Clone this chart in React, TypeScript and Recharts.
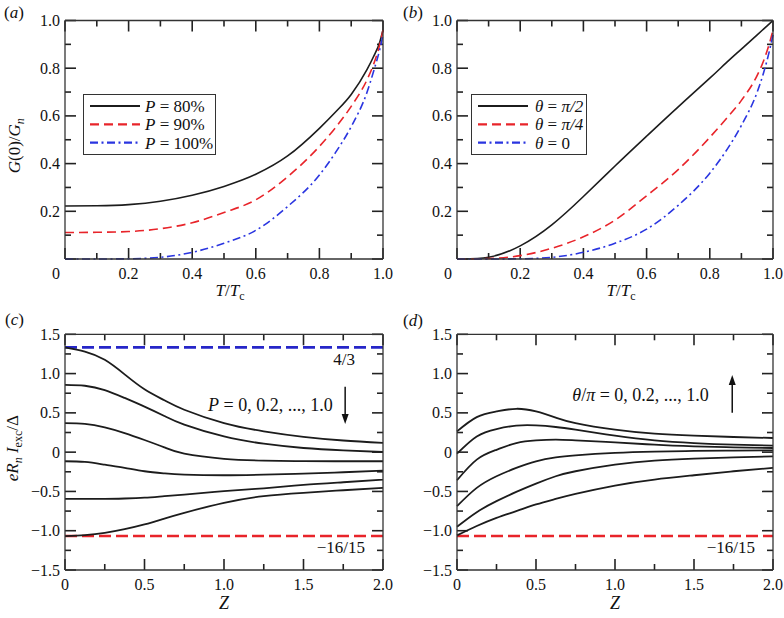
import React from "react";
import { LineChart, Line, XAxis, YAxis, ReferenceLine, ReferenceDot, Legend } from "recharts";

const FONT = '"Liberation Serif", "Times New Roman", serif';

// (a), (b): G(0)/G_n against T/T_c
const tempGrid = [0, 0.1, 0.2, 0.3, 0.4, 0.5, 0.6, 0.7, 0.8, 0.85, 0.9, 0.95, 0.97, 0.99, 1.0];
const gP80 = [0.222, 0.223, 0.228, 0.242, 0.267, 0.304, 0.355, 0.432, 0.548, 0.615, 0.69, 0.795, 0.848, 0.91, 0.96];
const gP90 = [0.111, 0.112, 0.115, 0.127, 0.152, 0.195, 0.248, 0.345, 0.472, 0.55, 0.64, 0.752, 0.815, 0.9, 0.96];
const gP100 = [0, 0, 0.001, 0.007, 0.028, 0.066, 0.12, 0.22, 0.352, 0.445, 0.555, 0.7, 0.785, 0.88, 0.94];
const gHalfPi = [0, 0.007, 0.055, 0.143, 0.262, 0.39, 0.515, 0.638, 0.758, 0.82, 0.88, 0.94, 0.964, 0.988, 1.0];
const gQuarterPi = [0, 0.002, 0.014, 0.045, 0.093, 0.163, 0.265, 0.375, 0.51, 0.585, 0.665, 0.77, 0.83, 0.91, 0.96];
const gZero = [0, 0, 0.001, 0.007, 0.028, 0.066, 0.125, 0.225, 0.36, 0.45, 0.56, 0.7, 0.78, 0.88, 0.94];

// (c), (d): eR_n I_exc / Delta against Z
const zGrid = [0, 0.125, 0.25, 0.375, 0.5, 0.625, 0.75, 1.0, 1.25, 1.5, 1.75, 2.0];
const excByP = [
  [1.333, 1.28, 1.175, 0.99, 0.8, 0.66, 0.54, 0.37, 0.265, 0.195, 0.148, 0.118],
  [0.857, 0.845, 0.79, 0.69, 0.58, 0.46, 0.35, 0.2, 0.108, 0.053, 0.023, 0.002],
  [0.37, 0.36, 0.315, 0.243, 0.155, 0.06, -0.02, -0.085, -0.107, -0.114, -0.116, -0.116],
  [-0.116, -0.125, -0.16, -0.2, -0.243, -0.27, -0.286, -0.294, -0.286, -0.273, -0.256, -0.235],
  [-0.595, -0.595, -0.595, -0.59, -0.58, -0.56, -0.54, -0.497, -0.46, -0.417, -0.383, -0.35],
  [-1.068, -1.055, -1.027, -0.98, -0.92, -0.845, -0.772, -0.645, -0.56, -0.518, -0.485, -0.455],
];
const excByTheta = [
  [-1.06, -0.94, -0.836, -0.751, -0.666, -0.595, -0.531, -0.425, -0.349, -0.294, -0.243, -0.201],
  [-0.95, -0.764, -0.624, -0.506, -0.4, -0.307, -0.243, -0.159, -0.108, -0.083, -0.066, -0.053],
  [-0.688, -0.455, -0.307, -0.2, -0.116, -0.066, -0.04, -0.01, 0.006, 0.015, 0.019, 0.023],
  [-0.358, -0.095, 0.03, 0.116, 0.15, 0.159, 0.15, 0.125, 0.095, 0.074, 0.061, 0.053],
  [-0.02, 0.2, 0.294, 0.337, 0.34, 0.32, 0.286, 0.21, 0.15, 0.116, 0.095, 0.083],
  [0.264, 0.446, 0.518, 0.552, 0.518, 0.44, 0.37, 0.286, 0.235, 0.21, 0.193, 0.18],
];
const upperLimit = 4 / 3;
const lowerLimit = -16 / 15;

const tTicks = [0, 0.1, 0.2, 0.3, 0.4, 0.5, 0.6, 0.7, 0.8, 0.9, 1.0];
const tMajor = [0, 0.2, 0.4, 0.6, 0.8, 1.0];
const zTicks = [0, 0.25, 0.5, 0.75, 1.0, 1.25, 1.5, 1.75, 2.0];
const zMajor = [0, 0.5, 1.0, 1.5, 2.0];
const eTicks = [-1.5, -1.25, -1.0, -0.75, -0.5, -0.25, 0, 0.25, 0.5, 0.75, 1.0, 1.25, 1.5];
const eMajor = [-1.5, -1.0, -0.5, 0, 0.5, 1.0, 1.5];

const rowsA = tempGrid.map((t, i) => ({ t, p80: gP80[i], p90: gP90[i], p100: gP100[i] }));
const rowsB = tempGrid.map((t, i) => ({ t, half: gHalfPi[i], quarter: gQuarterPi[i], zero: gZero[i] }));
const rowsC = zGrid.map((z, i) => {
  const r: any = { z };
  excByP.forEach((s, k) => (r["c" + k] = s[i]));
  return r;
});
const rowsD = zGrid.map((z, i) => {
  const r: any = { z };
  excByTheta.forEach((s, k) => (r["d" + k] = s[i]));
  return r;
});

const BLACK = "#1c1c1c";
const RED = "#e8242a";
const BLUE = "#2a35e0";
const AXIS = "#222";

const styleSolid = { stroke: BLACK, dash: undefined as string | undefined, curve: "natural" };
const styleDash = { stroke: RED, dash: "9 5", curve: "monotone" };
const styleDot = { stroke: BLUE, dash: "8 3.5 2 3.5", curve: "monotone" };

const seriesA = [
  { key: "p80", label: "80%", ...styleSolid, curve: "monotone" },
  { key: "p90", label: "90%", ...styleDash },
  { key: "p100", label: "100%", ...styleDot },
];
const seriesB = [
  { key: "half", label: "\u03c0/2", ...styleSolid },
  { key: "quarter", label: "\u03c0/4", ...styleDash },
  { key: "zero", label: "0", ...styleDot },
];

const fmtT = (v: number) => (v === 0 ? "0" : v.toFixed(1));
const fmtTy = (v: number) => (v === 0 ? "" : v.toFixed(1));
const fmtE = (v: number) => (v === 0 ? "0" : (v < 0 ? "\u2212" : "") + Math.abs(v).toFixed(1));

const isMajor = (majors: number[], v: number) => majors.some((m) => Math.abs(m - v) < 1e-9);

// tick labels of the bottom and left axes
function TickLabel(props: any) {
  const { x, y, payload, side, majors, fmt, shiftZero = 0 } = props;
  const v = payload.value;
  const text = isMajor(majors, v) ? fmt(v) : "";
  if (!text) return <g />;
  if (side === "bottom")
    return (
      <text x={x + (v === 0 ? shiftZero : 0)} y={y + 19.5} textAnchor="middle" fontSize={16} fontFamily={FONT} fill="#111">
        {text}
      </text>
    );
  return (
    <text x={x - 5} y={y + 5.5} textAnchor="end" fontSize={16} fontFamily={FONT} fill="#111">
      {text}
    </text>
  );
}

// inward tick marks on all four sides, as short reference segments;
// plotW / plotH (px) turn the 11 px / 6 px tick lengths into data units
function tickMarks(xs: number[], xMajor: number[], ys: number[], yMajor: number[],
  xDom: number[], yDom: number[], plotW: number, plotH: number) {
  const perPxX = (xDom[1] - xDom[0]) / plotW;
  const perPxY = (yDom[1] - yDom[0]) / plotH;
  const seg = (key: string, a: any, b: any) => (
    <ReferenceLine key={key} segment={[a, b]} stroke={AXIS} strokeWidth={1.6} ifOverflow="visible" />
  );
  const out: any[] = [];
  xs.forEach((v) => {
    const l = (isMajor(xMajor, v) ? 11 : 6) * perPxY;
    out.push(seg("xb" + v, { x: v, y: yDom[0] }, { x: v, y: yDom[0] + l }));
    out.push(seg("xt" + v, { x: v, y: yDom[1] }, { x: v, y: yDom[1] - l }));
  });
  ys.forEach((v) => {
    const l = (isMajor(yMajor, v) ? 11 : 6) * perPxX;
    out.push(seg("yl" + v, { x: xDom[0], y: v }, { x: xDom[0] + l, y: v }));
    out.push(seg("yr" + v, { x: xDom[1], y: v }, { x: xDom[1] - l, y: v }));
  });
  return out;
}

function TTitle({ viewBox }: any) {
  const cx = viewBox.x + viewBox.width / 2 + 6;
  return (
    <text x={cx} y={viewBox.y + 37} textAnchor="middle" fontSize={17} fontFamily={FONT} fill="#111">
      <tspan fontStyle="italic">T</tspan>/<tspan fontStyle="italic">T</tspan>
      <tspan fontSize={12} dy={4}>c</tspan>
    </text>
  );
}

function ZTitle({ viewBox }: any) {
  return (
    <text x={viewBox.x + viewBox.width / 2} y={viewBox.y + 39} textAnchor="middle" fontSize={18} fontFamily={FONT} fontStyle="italic" fill="#111">
      Z
    </text>
  );
}

function GTitle({ viewBox }: any) {
  const cx = viewBox.x - 44;
  const cy = viewBox.y + viewBox.height / 2 + 6;
  return (
    <text x={cx} y={cy} transform={`rotate(-90 ${cx} ${cy})`} textAnchor="middle" fontSize={17} fontFamily={FONT} fill="#111">
      <tspan fontStyle="italic">G</tspan>(0)/<tspan fontStyle="italic">G</tspan>
      <tspan fontStyle="italic" fontSize={12} dy={4}>n</tspan>
    </text>
  );
}

function ETitle({ viewBox }: any) {
  const cx = viewBox.x - 46;
  const cy = viewBox.y + viewBox.height / 2 - 4;
  return (
    <text x={cx} y={cy} transform={`rotate(-90 ${cx} ${cy})`} textAnchor="middle" fontSize={17} fontFamily={FONT} fill="#111">
      <tspan fontStyle="italic">eR</tspan>
      <tspan fontStyle="italic" fontSize={12} dy={4}>n</tspan>
      <tspan fontStyle="italic" dy={-4}> I</tspan>
      <tspan fontSize={12} dy={4}>exc</tspan>
      <tspan dy={-4}>/{"\u0394"}</tspan>
    </text>
  );
}

function LimitLabel({ viewBox, text, dx, dy }: any) {
  return (
    <text x={viewBox.x + viewBox.width + dx} y={viewBox.y + dy} textAnchor="end" fontSize={17} fontFamily={FONT} fill="#111">
      {text}
    </text>
  );
}

function Arrow({ x1, y1, x2, y2 }: any) {
  const dir = y2 > y1 ? 1 : -1;
  return (
    <g>
      <line x1={x1} y1={y1} x2={x2} y2={y2 - dir * 8} stroke="#111" strokeWidth={1.5} />
      <path d={`M${x2},${y2} L${x2 - 3.5},${y2 - dir * 10} L${x2 + 3.5},${y2 - dir * 10} Z`} fill="#111" />
    </g>
  );
}

function NoteP({ cx, cy }: any) {
  return (
    <text x={cx} y={cy} fontSize={18} fontFamily={FONT} fill="#111">
      <tspan fontStyle="italic">P</tspan> = 0, 0.2, ..., 1.0
    </text>
  );
}

function NoteTheta({ cx, cy }: any) {
  return (
    <text x={cx} y={cy} fontSize={18} fontFamily={FONT} fill="#111">
      <tspan fontStyle="italic">{"\u03b8"}</tspan>/<tspan fontStyle="italic">{"\u03c0"}</tspan> = 0, 0.2, ..., 1.0
    </text>
  );
}

function LegendBox({ items, width, symbol }: any) {
  return (
    <div style={{ width, height: 61, border: "1.3px solid #333", boxSizing: "border-box", background: "#fff" }}>
      <svg width={width - 3} height={58} style={{ display: "block" }}>
        {items.map((s: any, i: number) => {
          const y = 11 + i * 18.3;
          return (
            <g key={s.key}>
              <line x1={6} x2={56} y1={y} y2={y} stroke={s.stroke} strokeWidth={2.2} strokeDasharray={s.dash} />
              <text x={symbol === "P" ? 61 : 63} y={y + 6} fontSize={17} fontFamily={FONT} fill="#111">
                <tspan fontStyle="italic">{symbol === "P" ? "P" : "\u03b8"}</tspan>
                {" = "}
                {symbol === "P" ? s.label : <tspan fontStyle={s.label === "0" ? "normal" : "italic"}>{s.label}</tspan>}
              </text>
            </g>
          );
        })}
      </svg>
    </div>
  );
}

const frameLine = { stroke: "#333", strokeWidth: 1.3 };

// top and right axes only close the frame
function frameAxes(kind: "t" | "z") {
  const domX = kind === "t" ? [0, 1] : [0, 2];
  const domY = kind === "t" ? [0, 1] : [-1.5, 1.5];
  return [
    <XAxis key="xt" xAxisId="top" orientation="top" type="number" domain={domX} ticks={domX} height={1}
      tickLine={false} axisLine={frameLine} tick={false} />,
    <YAxis key="yr" yAxisId="right" orientation="right" type="number" domain={domY} ticks={domY} width={1}
      tickLine={false} axisLine={frameLine} tick={false} />,
  ];
}

const lineProps = { dot: false, isAnimationActive: false, strokeWidth: 1.6 };

function PanelA() {
  return (
    <LineChart width={410} height={312} data={rowsA} margin={{ top: 19.5, right: 26, bottom: 52, left: 64 }}>
      <XAxis dataKey="t" type="number" domain={[0, 1]} ticks={tTicks} interval={0} height={1} tickSize={0} tickMargin={0}
        tickLine={false} axisLine={frameLine} tick={<TickLabel side="bottom" majors={tMajor} fmt={fmtT} shiftZero={-9} />}
        label={<TTitle />} />
      <YAxis type="number" domain={[0, 1]} ticks={tTicks} interval={0} width={1} tickSize={0} tickMargin={0}
        tickLine={false} axisLine={frameLine} tick={<TickLabel side="left" majors={tMajor} fmt={fmtTy} />} label={<GTitle />} />
      {frameAxes("t")}
      {tickMarks(tTicks, tMajor, tTicks, tMajor, [0, 1], [0, 1], 318, 238.5)}
      {seriesA.map((s) => (
        <Line key={s.key} dataKey={s.key} type={s.curve as any} stroke={s.stroke} strokeDasharray={s.dash} {...lineProps} />
      ))}
      <Legend layout="vertical" align="center" verticalAlign="middle" wrapperStyle={{ left: 83, top: 94, width: 133, height: 61 }}
        content={() => <LegendBox items={seriesA} width={133} symbol="P" />} />
    </LineChart>
  );
}

function PanelB() {
  return (
    <LineChart width={392} height={312} data={rowsB} margin={{ top: 19.5, right: 10, bottom: 52, left: 64 }}>
      <XAxis dataKey="t" type="number" domain={[0, 1]} ticks={tTicks} interval={0} height={1} tickSize={0} tickMargin={0}
        tickLine={false} axisLine={frameLine} tick={<TickLabel side="bottom" majors={tMajor} fmt={fmtT} shiftZero={-9} />}
        label={<TTitle />} />
      <YAxis type="number" domain={[0, 1]} ticks={tTicks} interval={0} width={1} tickSize={0} tickMargin={0}
        tickLine={false} axisLine={frameLine} tick={<TickLabel side="left" majors={tMajor} fmt={fmtTy} />} />
      {frameAxes("t")}
      {tickMarks(tTicks, tMajor, tTicks, tMajor, [0, 1], [0, 1], 316, 238.5)}
      {seriesB.map((s) => (
        <Line key={s.key} dataKey={s.key} type={s.curve as any} stroke={s.stroke} strokeDasharray={s.dash} {...lineProps} />
      ))}
      <Legend layout="vertical" align="center" verticalAlign="middle" wrapperStyle={{ left: 79, top: 94, width: 116, height: 61 }}
        content={() => <LegendBox items={seriesB} width={116} symbol="theta" />} />
    </LineChart>
  );
}

function PanelC() {
  return (
    <LineChart width={410} height={318} data={rowsC} margin={{ top: 33.3, right: 26, bottom: 47, left: 64 }}>
      <XAxis dataKey="z" type="number" domain={[0, 2]} ticks={zTicks} interval={0} height={1} tickSize={0} tickMargin={0}
        tickLine={false} axisLine={frameLine} tick={<TickLabel side="bottom" majors={zMajor} fmt={fmtE} />} label={<ZTitle />} />
      <YAxis type="number" domain={[-1.5, 1.5]} ticks={eTicks} interval={0} width={1} tickSize={0} tickMargin={0}
        tickLine={false} axisLine={frameLine} tick={<TickLabel side="left" majors={eMajor} fmt={fmtE} />} label={<ETitle />} />
      {frameAxes("z")}
      {tickMarks(zTicks, zMajor, eTicks, eMajor, [0, 2], [-1.5, 1.5], 318, 235.7)}
      <ReferenceLine y={upperLimit} stroke="#2626c8" strokeWidth={2.6} strokeDasharray="12 5"
        label={<LimitLabel text="4/3" dx={-28} dy={18} />} />
      <ReferenceLine y={lowerLimit} stroke={RED} strokeWidth={2.4} strokeDasharray="12 5"
        label={<LimitLabel text={"\u221216/15"} dx={-18} dy={17} />} />
      {excByP.map((_, k) => (
        <Line key={k} dataKey={"c" + k} type="natural" stroke={BLACK} {...lineProps} strokeWidth={1.8} />
      ))}
      <ReferenceDot x={0.9} y={0.524} r={0} shape={<NoteP />} />
      <ReferenceLine segment={[{ x: 1.762, y: 0.833 }, { x: 1.762, y: 0.358 }]} shape={<Arrow />} />
    </LineChart>
  );
}

function PanelD() {
  return (
    <LineChart width={392} height={318} data={rowsD} margin={{ top: 33.3, right: 10, bottom: 47, left: 64 }}>
      <XAxis dataKey="z" type="number" domain={[0, 2]} ticks={zTicks} interval={0} height={1} tickSize={0} tickMargin={0}
        tickLine={false} axisLine={frameLine} tick={<TickLabel side="bottom" majors={zMajor} fmt={fmtE} />} label={<ZTitle />} />
      <YAxis type="number" domain={[-1.5, 1.5]} ticks={eTicks} interval={0} width={1} tickSize={0} tickMargin={0}
        tickLine={false} axisLine={frameLine} tick={<TickLabel side="left" majors={eMajor} fmt={fmtE} />} />
      {frameAxes("z")}
      {tickMarks(zTicks, zMajor, eTicks, eMajor, [0, 2], [-1.5, 1.5], 316, 235.7)}
      <ReferenceLine y={lowerLimit} stroke={RED} strokeWidth={2.4} strokeDasharray="12 5"
        label={<LimitLabel text={"\u221216/15"} dx={-18} dy={17} />} />
      {excByTheta.map((_, k) => (
        <Line key={k} dataKey={"d" + k} type="natural" stroke={BLACK} {...lineProps} strokeWidth={1.8} />
      ))}
      <ReferenceDot x={0.73} y={0.651} r={0} shape={<NoteTheta />} />
      <ReferenceLine segment={[{ x: 1.742, y: 0.502 }, { x: 1.742, y: 0.982 }]} shape={<Arrow />} />
    </LineChart>
  );
}

function PanelTag({ x, y, letter }: any) {
  return (
    <text x={x} y={y} fontSize={17} fontFamily={FONT} fill="#111">
      (<tspan fontStyle="italic">{letter}</tspan>)
    </text>
  );
}

export default function App() {
  return (
    <div style={{ position: "absolute", left: 0, top: 0, width: 784, height: 618, background: "#fff", fontFamily: FONT }}>
      <div style={{ position: "absolute", left: 0, top: 300 }}><PanelC /></div>
      <div style={{ position: "absolute", left: 392, top: 300 }}><PanelD /></div>
      <div style={{ position: "absolute", left: 0, top: 0 }}><PanelA /></div>
      <div style={{ position: "absolute", left: 392, top: 0 }}><PanelB /></div>
      <svg width={784} height={618} style={{ position: "absolute", left: 0, top: 0, pointerEvents: "none" }}>
        <PanelTag x={4} y={18} letter="a" />
        <PanelTag x={403} y={18} letter="b" />
        <PanelTag x={5} y={325} letter="c" />
        <PanelTag x={403} y={326} letter="d" />
      </svg>
    </div>
  );
}
